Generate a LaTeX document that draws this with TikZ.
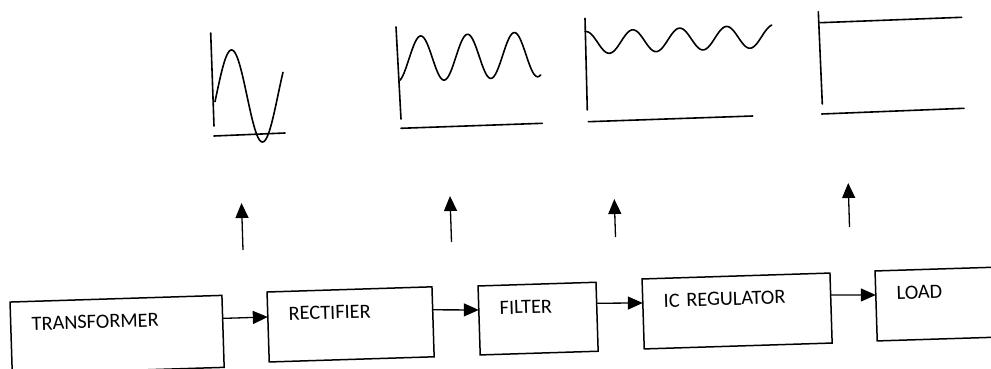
\documentclass[tikz,border=0pt]{standalone}
\usepackage{fontspec}
\setmainfont{Carlito}
\setlength{\parindent}{0pt}
\usetikzlibrary{arrows.meta,calc}
\begin{document}
\begin{tikzpicture}[x=1pt,y=-1pt,
  blk/.style={draw, line width=1.5pt, rotate=1.8, inner xsep=21pt, inner ysep=0pt,
    outer sep=0pt, align=left, font=\fontsize{20.3}{24}\selectfont, text height=29pt},
  flow/.style={line width=1.3pt, -{Triangle[length=15pt,width=13pt]}},
  wave/.style={line width=1.6pt, line join=round, line cap=round}]
\clip (0,0) rectangle (991,369);

% blocks
\node[blk, text width=170pt, text depth=43pt] (tr)  at (117.1,334.7) {TRANSFORMER};
\node[blk, text width=123pt, text depth=41pt] (rec) at (350.6,324.4) {RECTIFIER};
\node[blk, text width=76pt,  text depth=40pt] (fil) at (538.1,318.6) {FILTER};
\node[blk, text width=146pt, text depth=41pt] (icr) at (737.1,311.0) {IC REGULATOR};
\node[blk, text width=108pt, text depth=41pt] (lod) at (951.1,303.6) {LOAD};

% horizontal connectors
\draw[flow] ($(tr.north east)!23pt!(tr.south east)$) -- ($(rec.north west)!25pt!(rec.south west)$);
\draw[flow] ($(rec.north east)!23pt!(rec.south east)$) -- ($(fil.north west)!24pt!(fil.south west)$);
\draw[flow] ($(fil.north east)!21pt!(fil.south east)$) -- ($(icr.north west)!24pt!(icr.south west)$);
\draw[flow] ($(icr.north east)!22pt!(icr.south east)$) -- ($(lod.north west)!24pt!(lod.south west)$);

% vertical arrows
\coordinate (v1a) at (243,250);   \coordinate (v1b) at (241.5,203);
\coordinate (v2a) at (451.5,242); \coordinate (v2b) at (450,196);
\coordinate (v3a) at (615.5,237); \coordinate (v3b) at (614.3,199);
\coordinate (v4a) at (849.5,227); \coordinate (v4b) at (848.2,183);
\draw[flow] (v1a) -- (v1b);
\draw[flow] (v2a) -- (v2b);
\draw[flow] (v3a) -- (v3b);
\draw[flow] (v4a) -- (v4b);

% waveform 1: AC
\draw[wave] (210.7,33) -- (214,126);
\draw[wave] (214,136) -- (285,133);
\draw[wave] plot[domain=215:283, samples=90] (\x, {97 - 0.031*(\x-214) - 46.5*sin(((\x-216)/62)*360)});

% waveform 2: rectified
\draw[wave] (396,27) -- (401,119);
\draw[wave] (401,128.3) -- (542.3,123.3);
\draw[wave] plot[domain=400:540.7, samples=150] (\x, {59.2 - 0.036*(\x-400) - 22.5*sin(((\x-409)/46.8)*360)});

% waveform 3: filtered
\draw[wave] (585,18.3) -- (587.3,110);
\draw[wave] (588.3,121.7) -- (752.7,116);
\draw[wave] plot[domain=585:771.7, samples=180] (\x, {42 - 0.036*(\x-609) + 11.3*cos(((\x-609.3)/46.9)*360)});

% waveform 4: regulated DC
\draw[wave] (818.3,11.7) -- (822.3,104);
\draw[wave] (820,22.7) -- (961.7,17.3);
\draw[wave] (821.7,114) -- (964,108.3);
\end{tikzpicture}
\end{document}
